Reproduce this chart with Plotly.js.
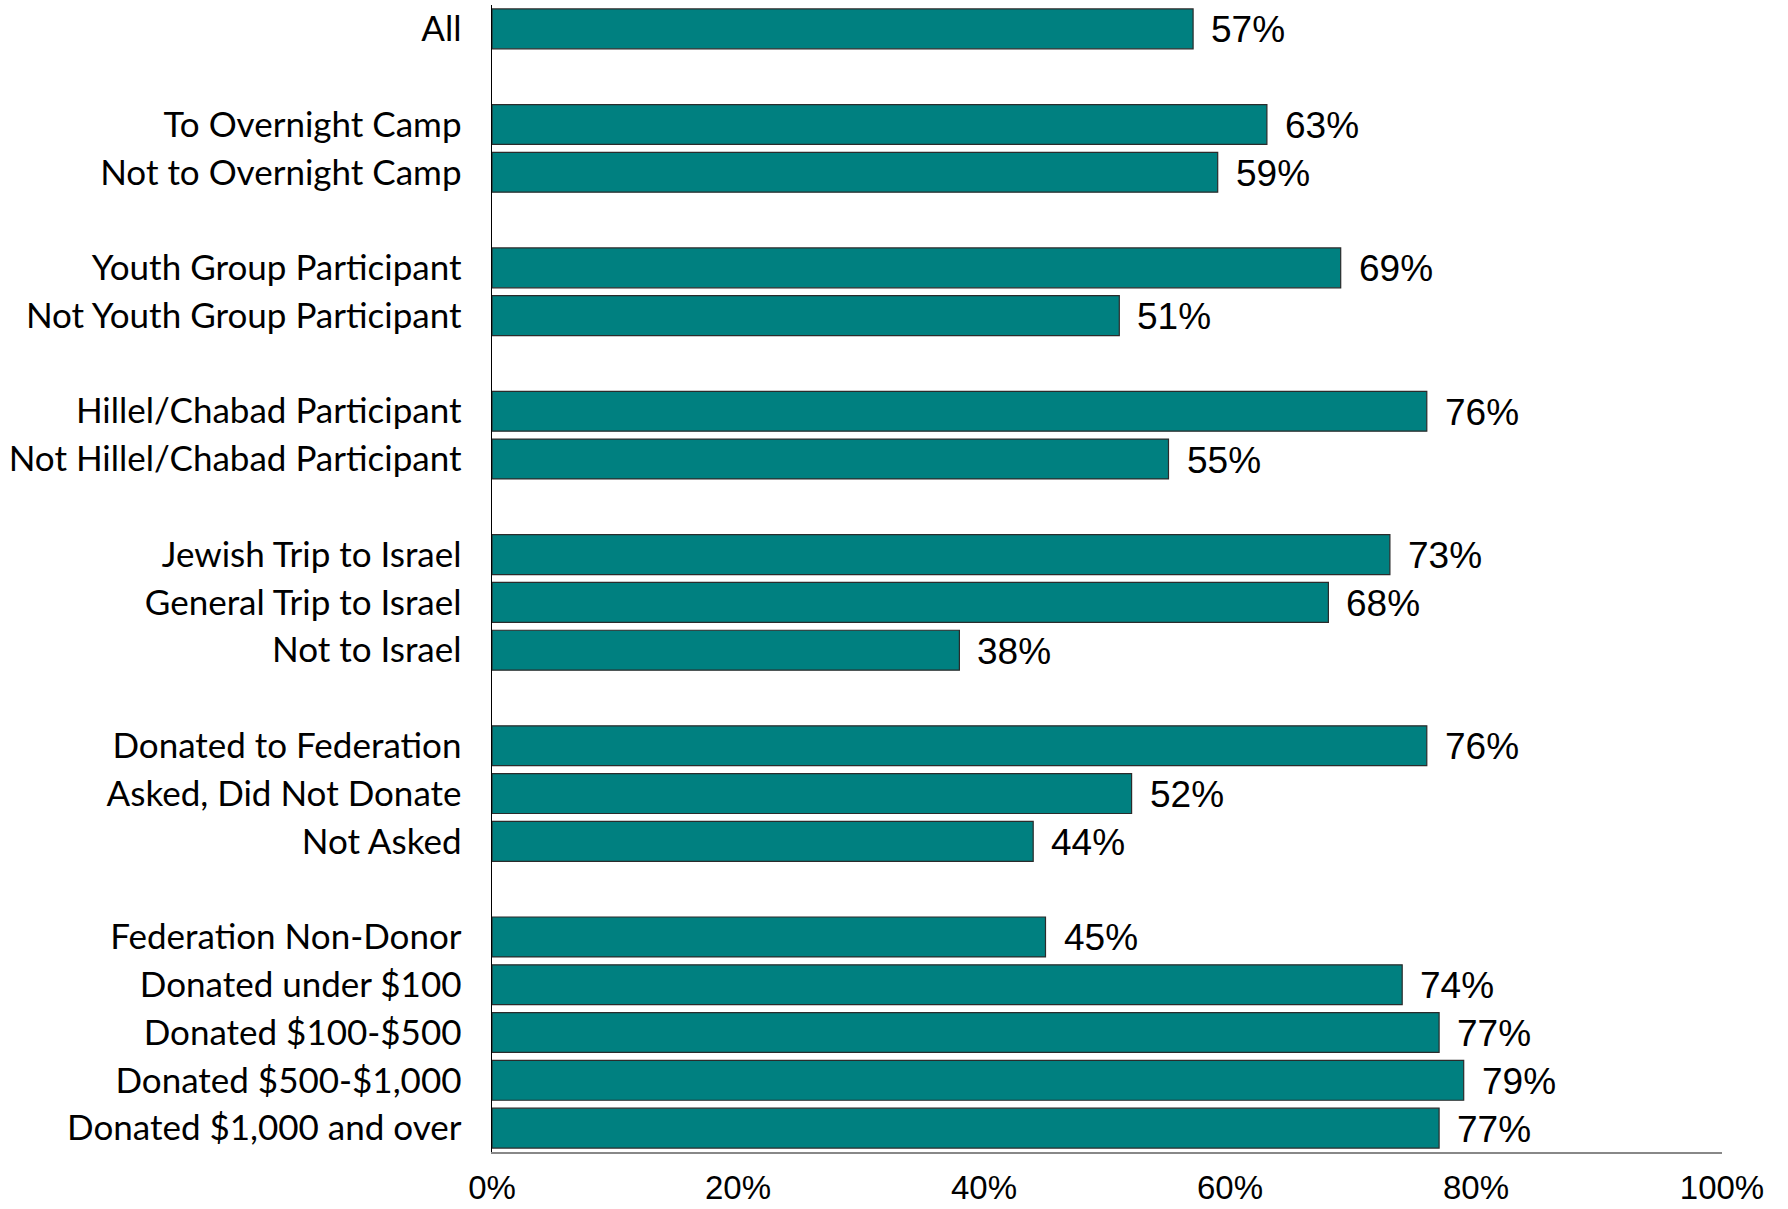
<!DOCTYPE html>
<html>
<head>
<meta charset="utf-8">
<script src="https://cdn.plot.ly/plotly-3.0.1.min.js"></script>
<style>html,body{margin:0;padding:0;background:#fff;}#chart{width:1788px;height:1209px;}</style>
</head>
<body>
<div id="chart"></div>
<script>
// Categories (blank entries are spacer rows between groups)
const categories = [
  "All", " ",
  "To Overnight Camp", "Not to Overnight Camp", "  ",
  "Youth Group Participant", "Not Youth Group Participant", "   ",
  "Hillel/Chabad Participant", "Not Hillel/Chabad Participant", "    ",
  "Jewish Trip to Israel", "General Trip to Israel", "Not to Israel", "     ",
  "Donated to Federation", "Asked, Did Not Donate", "Not Asked", "      ",
  "Federation Non-Donor", "Donated under $100", "Donated $100-$500", "Donated $500-$1,000", "Donated $1,000 and over"
];
const values = [
  0.57, null,
  0.63, 0.59, null,
  0.69, 0.51, null,
  0.76, 0.55, null,
  0.73, 0.68, 0.38, null,
  0.76, 0.52, 0.44, null,
  0.45, 0.74, 0.77, 0.79, 0.77
];
const xTickVals = [0, 0.2, 0.4, 0.6, 0.8, 1.0];
const xTickText = ["0%", "20%", "40%", "60%", "80%", "100%"];

const annotations = [];
categories.forEach((c, i) => {
  if (values[i] !== null) {
    annotations.push({
      x: values[i], y: c, xref: 'x', yref: 'y',
      text: Math.round(values[i] * 100) + '%',
      showarrow: false, xanchor: 'left', yanchor: 'middle', xshift: 16, yshift: -1,
      font: {family: 'Liberation Sans, Arial, sans-serif', size: 37, color: '#000'}
    });
  }
});

const trace = {
  type: 'bar', orientation: 'h',
  y: categories, x: values,
  marker: {color: '#008080', line: {color: '#2b2b2b', width: 1.2}},
  hoverinfo: 'skip'
};

const layout = {
  width: 1788, height: 1209,
  margin: {l: 492, r: 66, t: 5, b: 57},
  paper_bgcolor: '#fff', plot_bgcolor: '#fff',
  showlegend: false,
  bargap: 0.165,
  font: {family: 'Lato, sans-serif', color: '#000'},
  xaxis: {
    range: [0, 1], tickvals: xTickVals, ticktext: xTickText,
    showgrid: false, zeroline: false, showline: true, linecolor: '#888', linewidth: 2,
    ticks: '', ticklabelstandoff: 5,
    tickfont: {family: 'Liberation Sans Narrow, Arial Narrow, Liberation Sans, sans-serif', size: 33, color: '#000'},
    fixedrange: true, automargin: false
  },
  yaxis: {
    type: 'category', categoryorder: 'array', categoryarray: categories,
    autorange: 'reversed',
    showgrid: false, zeroline: false, showline: true, linecolor: '#000', linewidth: 1.5,
    ticks: '', ticklabelstandoff: 22,
    tickfont: {family: 'Lato, sans-serif', size: 35, color: '#000'},
    fixedrange: true, automargin: false
  },
  annotations: annotations
};

Plotly.newPlot('chart', [trace], layout, {displayModeBar: false, staticPlot: true});
</script>
</body>
</html>
